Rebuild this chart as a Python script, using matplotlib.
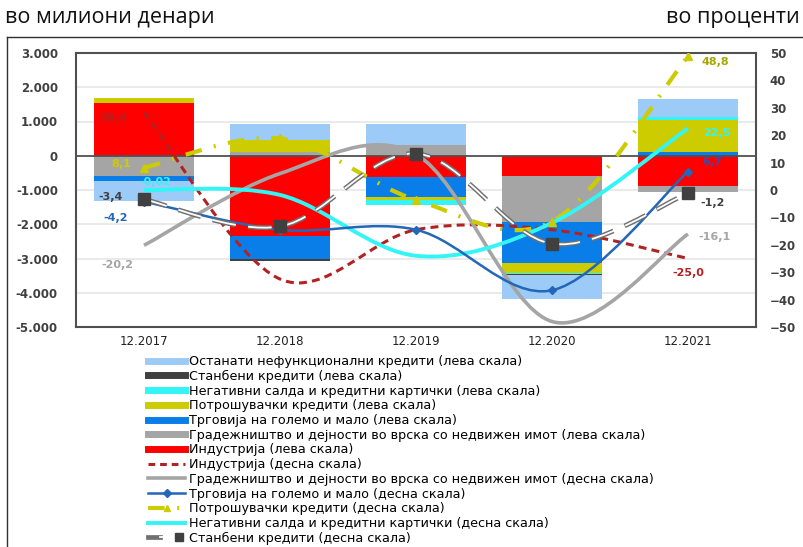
import numpy as np
import matplotlib
matplotlib.use("Agg")
import matplotlib.pyplot as plt
from matplotlib.path import Path
from matplotlib.patches import PathPatch
from matplotlib.lines import Line2D
from matplotlib.legend_handler import HandlerTuple

categories = ["12.2017", "12.2018", "12.2019", "12.2020", "12.2021"]

# bars, left scale (millions of denars)
industry_bar = [1550, -2330, -630, -600, -880]
construction_bar = [-590, 100, 300, -1340, -170]
trade_bar = [-160, -680, -560, -1205, 120]
consumer_bar = [150, 360, -95, -270, 925]
negative_bar = [0, 0, -165, -30, 90]
housing_bar = [0, -70, 25, -50, 0]
other_npl_bar = [-580, 460, 600, -680, 520]

# lines, right scale (percent)
industry_pct = [28.4, -32.5, -14.5, -14.5, -25.0]
construction_pct = [-20.2, 6.0, 13.0, -48.0, -16.1]
trade_pct = [-4.2, -14.5, -14.5, -36.6, 6.7]
consumer_pct = [8.1, 18.8, -3.6, -11.5, 48.8]
negative_pct = [-0.02, -1.8, -24.0, -12.0, 22.5]
housing_pct = [-3.4, -13.3, 13.3, -19.6, -1.2]

left_ticks = [3000, 2000, 1000, 0, -1000, -2000, -3000, -4000, -5000]
left_tick_labels = ["3.000", "2.000", "1.000", "0", "-1.000", "-2.000", "-3.000", "-4.000", "-5.000"]
right_ticks = [50, 40, 30, 20, 10, 0, -10, -20, -30, -40, -50]

C_OTHER = "#9DCBF7"
C_HOUSING = "#404040"
C_NEG = "#33F5F5"
C_CONS = "#CCCC00"
C_TRADE = "#0A7EE8"
C_CONSTR = "#A5A5A5"
C_IND = "#FF0000"
C_IND_LINE = "#B22222"
C_TRADE_LINE = "#2267B8"


def smooth_path(xs, ys):
    # excel-style smoothed line as cubic bezier segments
    pts = list(zip(xs, ys))
    n = len(pts)
    verts = [pts[0]]
    codes = [Path.MOVETO]
    for i in range(n - 1):
        p0 = np.array(pts[max(i - 1, 0)])
        p1 = np.array(pts[i])
        p2 = np.array(pts[i + 1])
        p3 = np.array(pts[min(i + 2, n - 1)])
        c1 = p1 + (p2 - p0) / 6.0
        c2 = p2 - (p3 - p1) / 6.0
        verts += [tuple(c1), tuple(c2), tuple(p2)]
        codes += [Path.CURVE4] * 3
    return Path(verts, codes)


fig = plt.figure(figsize=(8.04, 5.47), dpi=100)
ax = fig.add_axes([76 / 804, 1 - 327 / 547, 680 / 804, 274 / 547])
ax2 = ax.twinx()

x = np.arange(len(categories))
width = 0.74
pos_bottom = np.zeros(len(x))
neg_bottom = np.zeros(len(x))
bar_series = [
    (industry_bar, C_IND),
    (construction_bar, C_CONSTR),
    (trade_bar, C_TRADE),
    (consumer_bar, C_CONS),
    (negative_bar, C_NEG),
    (housing_bar, C_HOUSING),
    (other_npl_bar, C_OTHER),
]
for vals, col in bar_series:
    v = np.array(vals, dtype=float)
    bottom = np.where(v >= 0, pos_bottom, neg_bottom)
    ax.bar(x, v, width, bottom=bottom, color=col, zorder=2, linewidth=0)
    pos_bottom += np.where(v >= 0, v, 0)
    neg_bottom += np.where(v < 0, v, 0)

ax.set_ylim(-5000, 3000)
ax.set_yticks(left_ticks)
ax.set_yticklabels(left_tick_labels)
ax.set_xlim(-0.5, len(x) - 0.5)
ax.set_xticks(x)
ax.set_xticklabels(categories)
for yv in left_ticks:
    if yv not in (0, 3000, -5000):
        ax.axhline(yv, color="#E6E6E6", lw=1.2, zorder=0)
ax.axhline(0, color="#505050", lw=1.3, zorder=3)

ax.tick_params(axis="y", length=0, pad=13, labelsize=8.5, labelcolor="#404040")
ax.tick_params(axis="x", length=0, pad=6, labelsize=8.5, labelcolor="#202020")
for lab in ax.get_yticklabels():
    lab.set_fontweight("bold")
for s in ax.spines.values():
    s.set_color("#505050")
    s.set_linewidth(1.5)

ax2.set_ylim(-50, 50)
ax2.set_yticks(right_ticks)
ax2.tick_params(axis="y", length=0, pad=10, labelsize=8.5, labelcolor="#404040")
for lab in ax2.get_yticklabels():
    lab.set_fontweight("bold")
for s in ax2.spines.values():
    s.set_visible(False)

# right-scale lines
ax2.add_patch(PathPatch(smooth_path(x, industry_pct), fill=False, edgecolor=C_IND_LINE,
                        lw=2.2, linestyle=(0, (2.6, 1.7)), zorder=4))
ax2.add_patch(PathPatch(smooth_path(x, construction_pct), fill=False, edgecolor=C_CONSTR,
                        lw=2.6, zorder=4))
ax2.add_patch(PathPatch(smooth_path(x, trade_pct), fill=False, edgecolor=C_TRADE_LINE,
                        lw=1.8, zorder=5))
ax2.plot(x, trade_pct, linestyle="none", marker="D", ms=4.5, color=C_TRADE_LINE, zorder=5)
ax2.add_patch(PathPatch(smooth_path(x, consumer_pct), fill=False, edgecolor=C_CONS,
                        lw=3, linestyle=(0, (4, 3, 0.5, 3)), zorder=4))
ax2.plot(x, consumer_pct, linestyle="none", marker="^", ms=6, color=C_CONS, zorder=5)
ax2.add_patch(PathPatch(smooth_path(x, negative_pct), fill=False, edgecolor=C_NEG,
                        lw=2.8, zorder=4))
ax2.add_patch(PathPatch(smooth_path(x, housing_pct), fill=False, edgecolor="#707070",
                        lw=3.4, linestyle=(0, (5, 2.6)), zorder=6))
ax2.add_patch(PathPatch(smooth_path(x, housing_pct), fill=False, edgecolor="white",
                        lw=1.3, linestyle=(0, (13.1, 6.8)), zorder=6))
ax2.plot(x, housing_pct, linestyle="none", marker="s", ms=8, color="#404040", zorder=7)

# data labels: (index, value, text, colour, dx px right, dy px down)
labels = [
    (0, industry_pct[0], "28,4", C_IND_LINE, -31, 6),
    (0, consumer_pct[0], "8,1", C_CONS, -23, -4),
    (0, negative_pct[0], "-0,02", C_NEG, 11, -8),
    (0, housing_pct[0], "-3,4", "#404040", -33, -2),
    (0, trade_pct[0], "-4,2", C_TRADE_LINE, -28, 16),
    (0, construction_pct[0], "-20,2", "#A5A5A5", -27, 20),
    (4, consumer_pct[4], "48,8", "#A6A600", 27, 6),
    (4, negative_pct[4], "22,5", C_NEG, 29, 5),
    (4, trade_pct[4], "6,7", "#3050B0", 24, -10),
    (4, housing_pct[4], "-1,2", "#404040", 25, 10),
    (4, construction_pct[4], "-16,1", "#A5A5A5", 27, 3),
    (4, industry_pct[4], "-25,0", C_IND_LINE, 0, 14),
]
for xi, yi, txt, col, dx, dy in labels:
    ax2.annotate(txt, (xi, yi), xytext=(dx, -dy), textcoords="offset pixels",
                 ha="center", va="center", fontsize=8, fontweight="bold", color=col, zorder=8)

# titles
fig.text(5 / 804, 1 - 18 / 547, "во милиони денари", fontsize=15.5, family="Open Sans",
         ha="left", va="center", color="#111111")
fig.text(800 / 804, 1 - 18 / 547, "во проценти", fontsize=15.5, family="Open Sans",
         ha="right", va="center", color="#111111")

# outer frame (top and left edges)
fig.add_artist(Line2D([7 / 804, 1], [1 - 37 / 547, 1 - 37 / 547], color="#303030", lw=1))
fig.add_artist(Line2D([7 / 804, 7 / 804], [0, 1 - 37 / 547], color="#303030", lw=1))

# legend
handles = [
    Line2D([], [], color=C_OTHER, lw=5),
    Line2D([], [], color=C_HOUSING, lw=5),
    Line2D([], [], color=C_NEG, lw=5),
    Line2D([], [], color=C_CONS, lw=5),
    Line2D([], [], color=C_TRADE, lw=5),
    Line2D([], [], color=C_CONSTR, lw=5),
    Line2D([], [], color=C_IND, lw=5),
    Line2D([], [], color=C_IND_LINE, lw=2.2, linestyle=(0, (2.2, 1.6))),
    Line2D([], [], color=C_CONSTR, lw=2.6),
    Line2D([], [], color=C_TRADE_LINE, lw=1.8, marker="D", ms=4),
    Line2D([], [], color=C_CONS, lw=3, linestyle=(0, (4, 3, 0.5, 3)), marker="^", ms=5),
    Line2D([], [], color=C_NEG, lw=2.8),
    (Line2D([], [], color="#707070", lw=3.4), Line2D([], [], color="white", lw=1.3),
     Line2D([], [], linestyle="none", marker="s", ms=6, color="#404040")),
]
names = [
    "Останати нефункционални кредити (лева скала)",
    "Станбени кредити (лева скала)",
    "Негативни салда и кредитни картички (лева скала)",
    "Потрошувачки кредити (лева скала)",
    "Трговија на големо и мало (лева скала)",
    "Градежништво и дејности во врска со недвижен имот (лева скала)",
    "Индустрија (лева скала)",
    "Индустрија (десна скала)",
    "Градежништво и дејности во врска со недвижен имот (десна скала)",
    "Трговија на големо и мало (десна скала)",
    "Потрошувачки кредити (десна скала)",
    "Негативни салда и кредитни картички (десна скала)",
    "Станбени кредити (десна скала)",
]
fig.legend(handles, names, loc="upper left", bbox_to_anchor=(148 / 804, 1 - 355 / 547),
           frameon=False, fontsize=9.2, handlelength=2.9, handletextpad=0.3,
           labelspacing=0.135, borderpad=0, borderaxespad=0,
           handler_map={tuple: HandlerTuple(ndivide=None)})

fig.savefig("out.png", dpi=100)
